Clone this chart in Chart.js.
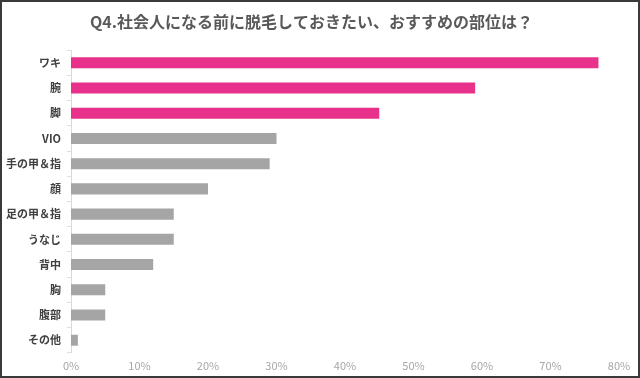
<!DOCTYPE html>
<html><head><meta charset="utf-8">
<script src="https://cdn.jsdelivr.net/npm/chart.js@4/dist/chart.umd.min.js"></script>
<style>html,body{margin:0;padding:0;background:#fff}#wrap{width:640px;height:378px;position:relative}</style>
</head><body><div id="wrap"><canvas id="c" width="640" height="378"></canvas></div>
<script>
const titleText = 'Q4.社会人になる前に脱毛しておきたい、おすすめの部位は？';
const categories = ['ワキ','腕','脚','VIO','手の甲＆指','顔','足の甲＆指','うなじ','背中','胸','腹部','その他'];
const values = [77, 59, 45, 30, 29, 20, 15, 15, 12, 5, 5, 1];
const highlighted = [true, true, true, false, false, false, false, false, false, false, false, false];
const xTicks = [0,10,20,30,40,50,60,70,80];

const PINK = '#E8318A', GRAY = '#A5A5A5';
const framePlugin = {
  id: 'frame',
  beforeDraw(chart){ const c=chart.ctx; c.save(); c.fillStyle='#fff'; c.fillRect(0,0,chart.width,chart.height); c.restore(); },
  afterDraw(chart){ const c=chart.ctx; c.save(); c.strokeStyle='#3a3a3a'; c.lineWidth=2; c.strokeRect(1,1,chart.width-2,chart.height-2); c.restore(); }
};
new Chart(document.getElementById('c'), {
  type: 'bar',
  data: { labels: categories, datasets: [{ data: values,
    backgroundColor: highlighted.map(h => h ? PINK : GRAY),
    barPercentage: 0.88, categoryPercentage: 0.5 }] },
  options: {
    indexAxis: 'y', responsive: false, animation: false,
    layout: { padding: { left: 4, right: 21, top: 0, bottom: 0 } },
    plugins: {
      legend: { display: false }, tooltip: { enabled: false },
      title: { display: true, text: titleText, color: '#595959',
        font: { family: '"Noto Sans CJK JP"', size: 16, weight: 'bold' },
        padding: { top: 12, bottom: 19 } }
    },
    scales: {
      x: { min: 0, max: 80, afterBuildTicks(ax){ ax.ticks = xTicks.map(v => ({value: v})); },
        grid: { display: false, drawTicks: false }, border: { display: false },
        ticks: { color: '#A6A6A6', padding: 6, font: { family: '"Noto Sans CJK JP"', size: 11 }, callback: v => v + '%' } },
      y: { afterFit(ax){ ax.width = 67; },
        grid: { offset: true, drawOnChartArea: false, drawTicks: true, tickLength: 4, color: '#E0E0E0' },
        border: { display: true, color: '#D9D9D9' },
        ticks: { color: '#404040', padding: 6, font: { family: '"Noto Sans CJK JP"', size: 11, weight: 'bold' } } }
    }
  },
  plugins: [framePlugin]
});
</script></body></html>
